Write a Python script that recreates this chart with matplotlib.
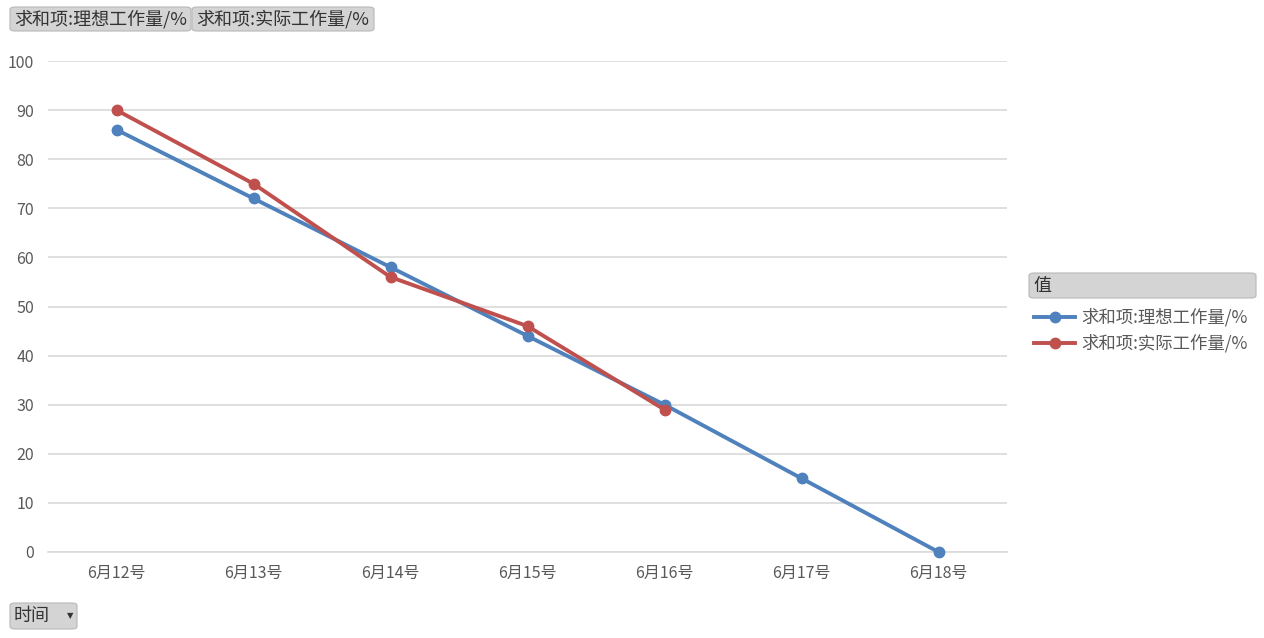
import matplotlib.pyplot as plt
from matplotlib.patches import FancyBboxPatch
from matplotlib.lines import Line2D

plt.rcParams['font.family'] = ['Noto Sans CJK SC', 'DejaVu Sans']

dates = ['6月12号', '6月13号', '6月14号', '6月15号', '6月16号', '6月17号', '6月18号']
ideal = [86, 72, 58, 44, 30, 15, 0]
actual = [90, 75, 56, 46, 29]
ideal_name = '求和项:理想工作量/%'
actual_name = '求和项:实际工作量/%'

fig = plt.figure(figsize=(12.64, 6.38), dpi=100)
W, H = 1264, 638
ax = fig.add_axes([48 / W, 1 - 552 / H, (1007 - 48) / W, (552 - 61) / H])

x = list(range(len(dates)))
ax.plot(x, ideal, color='#4F81BD', lw=2.8, marker='o', ms=7.5, zorder=3, clip_on=False)
ax.plot(x[:len(actual)], actual, color='#C0504D', lw=2.8, marker='o', ms=7.5, zorder=4, clip_on=False)

ax.set_xlim(-0.5, len(dates) - 0.5)
ax.set_ylim(0, 100)
ax.set_yticks(range(0, 101, 10))
ax.set_xticks(x)
ax.set_xticklabels(dates)
ax.tick_params(axis='both', length=0, labelsize=11.5, colors='#595959')
ax.tick_params(axis='x', pad=9)
ax.tick_params(axis='y', pad=10)
ax.grid(axis='y', color='#D9D9D9', lw=1.2)
ax.set_axisbelow(True)
for s in ['top', 'right', 'left']:
    ax.spines[s].set_visible(False)
ax.spines['bottom'].set_color('#D9D9D9')
ax.spines['bottom'].set_linewidth(1.2)


def button(x0, y0, x1, y1, label, arrow=False):
    # pixel coords from top-left
    p = FancyBboxPatch((x0 / W, 1 - y1 / H), (x1 - x0) / W, (y1 - y0) / H,
                       boxstyle='round,pad=0,rounding_size=0.004',
                       transform=fig.transFigure, facecolor='#D4D4D4',
                       edgecolor='#B8B8B8', lw=0.8)
    fig.patches.append(p)
    fig.text((x0 + 4) / W, 1 - (y0 + y1) / 2 / H, label, fontsize=13,
             color='#333333', va='center', ha='left')
    if arrow:
        fig.text((x1 - 7) / W, 1 - (y0 + y1) / 2 / H, '▼', fontsize=6,
                 color='#333333', va='center', ha='center', family='DejaVu Sans')


button(10, 7, 191, 31, ideal_name)
button(192, 7, 374, 31, actual_name)
button(10, 603, 77, 629, '时间', arrow=True)
button(1029, 273, 1256, 298, '值')

# legend
for yy, c, name in [(317, '#4F81BD', ideal_name), (343, '#C0504D', actual_name)]:
    fig.add_artist(Line2D([1034 / W, 1075 / W], [1 - yy / H, 1 - yy / H],
                          transform=fig.transFigure, color=c, lw=2.8))
    fig.add_artist(Line2D([1054.5 / W], [1 - yy / H], transform=fig.transFigure,
                          color=c, marker='o', ms=7.5, lw=0))
    fig.text(1081 / W, 1 - yy / H, name, fontsize=12.5, color='#595959',
             va='center', ha='left')

fig.savefig('out.png', dpi=100, facecolor='white')
